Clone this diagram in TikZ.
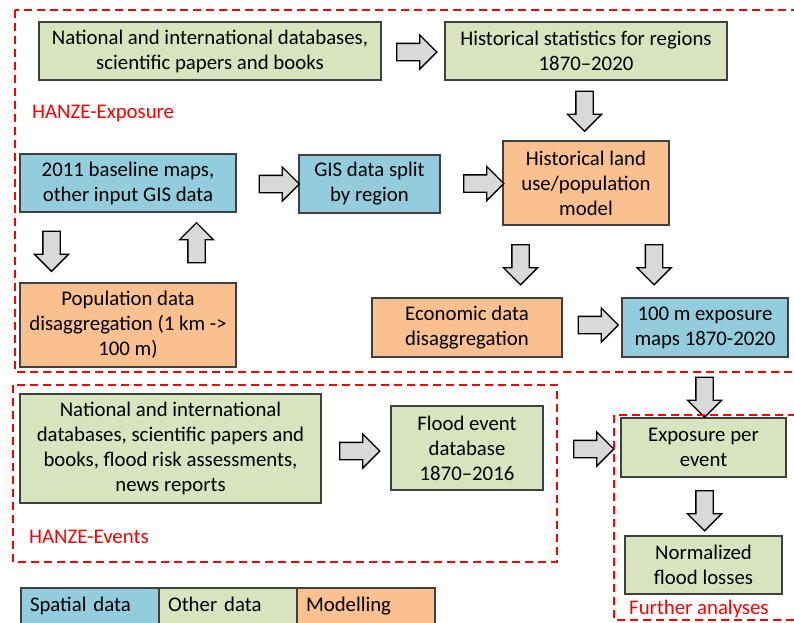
\documentclass[tikz,border=0pt]{standalone}
\usepackage{fontspec}
\setmainfont{Carlito}
\usetikzlibrary{shapes.arrows, positioning}

\definecolor{spatialblue}{HTML}{93CDDD}
\definecolor{othergreen}{HTML}{D7E4BD}
\definecolor{modelorange}{HTML}{FAC090}
\definecolor{arrowgrey}{HTML}{D9D9D9}
\definecolor{boxline}{HTML}{404040}

\begin{document}
\begin{tikzpicture}[x=1pt, y=-1pt,
 box/.style={draw=boxline, line width=1.1pt, align=center, inner sep=2pt,
  outer sep=0pt, font=\fontsize{20.8}{25}\selectfont},
 spatial/.style={box, fill=spatialblue},
 other/.style={box, fill=othergreen},
 model/.style={box, fill=modelorange},
 flowarrow/.style={single arrow, draw=black, fill=arrowgrey, line width=1.3pt,
  minimum height=40pt, inner xsep=0pt, inner ysep=8pt,
  single arrow head extend=8.5pt},
 groupframe/.style={draw=red, line width=1.6pt, dash pattern=on 8pt off 5pt},
 grouplabel/.style={text=red, anchor=west, inner sep=0pt,
  font=\fontsize{20.8}{25}\selectfont},
 legendcell/.style={box, minimum width=138pt, minimum height=36pt,
  inner xsep=9pt, text width=120pt, align=left, text height=14pt, text depth=4pt}]

  \useasboundingbox (0,0) rectangle (794,622);
  \clip (0,0) rectangle (794,622);

  % HANZE-Exposure
  \node[other, minimum width=342pt, minimum height=58pt] (natdb) at (210,51)
   {National and international databases,\\scientific papers and books};
  \node[other, minimum width=282pt, minimum height=58pt] (histstat) at (586,51)
   {Historical statistics for regions\\1870--2020};
  \node[spatial, minimum width=216pt, minimum height=58pt] (baseline) at (128,183)
   {2011 baseline maps,\\other input GIS data};
  \node[spatial, minimum width=141pt, minimum height=58pt] (gissplit) at (369.5,184)
   {GIS data split\\by region};
  \node[model, minimum width=166pt, minimum height=84pt] (landuse) at (586,183)
   {Historical land\\use/population\\model};
  \node[model, minimum width=216pt, minimum height=84pt] (popdis) at (128,325)
   {Population data\\disaggregation (1 km ->\\100 m)};
  \node[model, minimum width=190pt, minimum height=59pt] (econ) at (467,327.5)
   {Economic data\\disaggregation};
  \node[spatial, minimum width=166pt, minimum height=59pt] (expmaps) at (705,327.5)
   {100 m exposure\\maps 1870-2020};

  % HANZE-Events
  \node[other, minimum width=301pt, minimum height=109pt] (eventsrc) at (170.5,448.5)
   {National and international\\databases, scientific papers and\\books, flood risk assessments,\\news reports};
  \node[other, minimum width=152pt, minimum height=84pt] (floodev) at (467,448)
   {Flood event\\database\\1870--2016};

  % Further analyses
  \node[other, minimum width=165pt, minimum height=59pt] (expev) at (703.5,447.5)
   {Exposure per\\event};
  \node[other, minimum width=157pt, minimum height=58pt] (normloss) at (703.5,565)
   {Normalized\\flood losses};

  % block arrows
  \foreach \x/\y/\r [count=\i] in {412.5/52/0, 584.5/107/-90, 275/184/0,
    479.5/183.5/0, 51.5/247/-90, 196.5/247/90, 520.5/260.5/-90,
    654/260.5/-90, 594/325/0, 704.5/393/-90, 355.5/451/0, 589.5/449/0,
    704.5/506.5/-90} {
   \node[flowarrow, rotate=\r] (arrow\i) at (\x,\y) {};}

  % group frames
  \draw[groupframe] (15,10) rectangle (812,372);
  \draw[groupframe] (13,385) rectangle (557,562);
  \draw[groupframe] (614,415) rectangle (812,620);
  \node[grouplabel] (exposurelabel) at (32,113) {HANZE-Exposure};
  \node[grouplabel] (eventslabel) at (29,537) {HANZE-Events};
  \node[grouplabel] (furtherlabel) at (629,609) {Further analyses};

  % legend
  \node[legendcell, fill=spatialblue, anchor=north west] (legspatial) at (21,588) {Spatial data};
  \node[legendcell, fill=othergreen, right=0pt of legspatial] (legother) {Other data};
  \node[legendcell, fill=modelorange, right=0pt of legother] (legmodel) {Modelling};
\end{tikzpicture}
\end{document}
